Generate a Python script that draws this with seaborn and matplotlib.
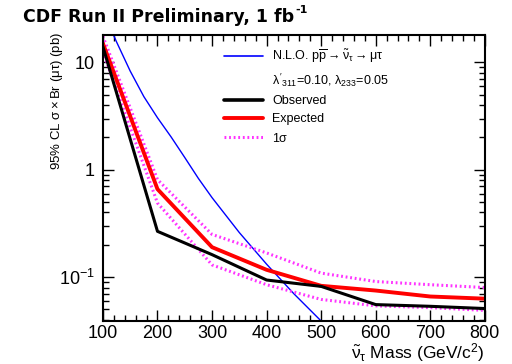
import matplotlib
matplotlib.use("Agg")
import matplotlib.pyplot as plt
import seaborn as sns
import pandas as pd
from matplotlib.lines import Line2D
from matplotlib.ticker import FixedLocator, MultipleLocator, LogLocator, NullFormatter

# ---- data ----
mass = [100, 200, 300, 400, 500, 600, 700, 800]
observed = [14.0, 0.267, 0.162, 0.094, 0.082, 0.0555, 0.0535, 0.051]
expected = [15.0, 0.66, 0.19, 0.117, 0.083, 0.075, 0.066, 0.063]
sigma_up = [17.5, 0.81, 0.25, 0.168, 0.109, 0.091, 0.085, 0.080]
sigma_dn = [12.5, 0.49, 0.13, 0.085, 0.062, 0.054, 0.052, 0.049]

nlo_mass = [100, 125, 150, 175, 200, 225, 250, 275, 300, 350, 400, 450, 500]
nlo_xsec = [30.0, 15.5, 8.3, 4.8, 3.05, 2.02, 1.30, 0.83, 0.55, 0.26, 0.132, 0.070, 0.039]

x_ticks = [100, 200, 300, 400, 500, 600, 700, 800]
y_ticks = [0.1, 1, 10]
y_ticklabels = [r"10$^{-1}$", "1", "10"]

title = "CDF Run II Preliminary, 1 fb"
title_sup = "-1"
nlo_label = r"N.L.O. $\mathrm{p\overline{p}}\rightarrow\tilde{\nu}_{\tau}\rightarrow\mu\tau$"
coupling_label = r"$\lambda'_{311}$=0.10, $\lambda_{233}$=0.05"

sns.set_theme(style="ticks")
plt.rcParams["font.family"] = ["Liberation Sans", "DejaVu Sans"]
plt.rcParams["mathtext.fontset"] = "custom"
plt.rcParams["mathtext.rm"] = "Liberation Sans"
plt.rcParams["mathtext.it"] = "Liberation Sans"
plt.rcParams["mathtext.bf"] = "Liberation Sans:bold"
plt.rcParams["text.color"] = "black"
plt.rcParams["axes.labelcolor"] = "black"

df = pd.DataFrame({"mass": mass, "observed": observed, "expected": expected,
                   "up": sigma_up, "dn": sigma_dn})
dn = pd.DataFrame({"mass": nlo_mass, "xsec": nlo_xsec})

fig = plt.figure(figsize=(5.12, 3.64), dpi=100)
ax = fig.add_axes([0.201, 0.118, 0.746, 0.786])

mag = "#ff33ff"
dots = (0, (0.6, 0.9))
sns.lineplot(data=dn, x="mass", y="xsec", ax=ax, color="#0000ff", lw=1.0)
sns.lineplot(data=df, x="mass", y="up", ax=ax, color=mag, lw=2.2, linestyle=dots)
sns.lineplot(data=df, x="mass", y="dn", ax=ax, color=mag, lw=2.2, linestyle=dots)
sns.lineplot(data=df, x="mass", y="expected", ax=ax, color="#ff0000", lw=2.8)
sns.lineplot(data=df, x="mass", y="observed", ax=ax, color="black", lw=2.2)

ax.set_yscale("log")
ax.set_xlim(100, 800)
ax.set_ylim(0.039, 18.0)

ax.xaxis.set_major_locator(FixedLocator(x_ticks))
ax.xaxis.set_minor_locator(MultipleLocator(20))
ax.set_xticklabels([str(v) for v in x_ticks])
ax.yaxis.set_major_locator(FixedLocator(y_ticks))
ax.set_yticklabels(y_ticklabels)
ax.yaxis.set_minor_locator(LogLocator(base=10, subs=range(2, 10)))
ax.yaxis.set_minor_formatter(NullFormatter())

ax.tick_params(axis="both", which="both", direction="in", top=True, right=True,
               labelsize=13, width=1.0, colors="black")
ax.tick_params(axis="both", which="major", length=8)
ax.tick_params(axis="x", which="major", pad=3)
ax.tick_params(axis="y", which="major", pad=6)
ax.tick_params(axis="both", which="minor", length=4)
for s in ax.spines.values():
    s.set_linewidth(1.5)
    s.set_color("black")

ax.set_xlabel(r"$\tilde{\nu}_{\tau}$ Mass (GeV/c$^{2}$)", fontsize=12.5, loc="right", labelpad=-1)
ax.set_ylabel(r"95% CL $\sigma\times$Br ($\mu\tau$) (pb)", fontsize=9.5, loc="top")
ax.yaxis.set_label_coords(-0.1, 1.01)

t = fig.text(0.045, 0.952, title, fontsize=12.5, fontweight="bold", ha="left", va="center",
             family="DejaVu Sans", color="black")
fig.canvas.draw()
bb = t.get_window_extent().transformed(fig.transFigure.inverted())
fig.text(bb.x1 + 0.002, 0.973, title_sup, fontsize=8, fontweight="bold", ha="left",
         va="center", family="DejaVu Sans", color="black")

handles = [
    Line2D([], [], color="#0000ff", lw=1.2),
    Line2D([], [], color="none", lw=0),
    Line2D([], [], color="black", lw=2.6),
    Line2D([], [], color="#ff0000", lw=2.8),
    Line2D([], [], color=mag, lw=2.2, linestyle=dots),
]
labels = [nlo_label, coupling_label, "Observed", "Expected", r"1$\sigma$"]
leg = ax.legend(handles, labels, loc="upper left", bbox_to_anchor=(0.305, 0.972),
                frameon=False, fontsize=9, handlelength=3.1, handletextpad=0.7,
                labelspacing=0.5, borderaxespad=0)
for txt in leg.get_texts():
    txt.set_color("black")

fig.savefig("out.png", dpi=100)
